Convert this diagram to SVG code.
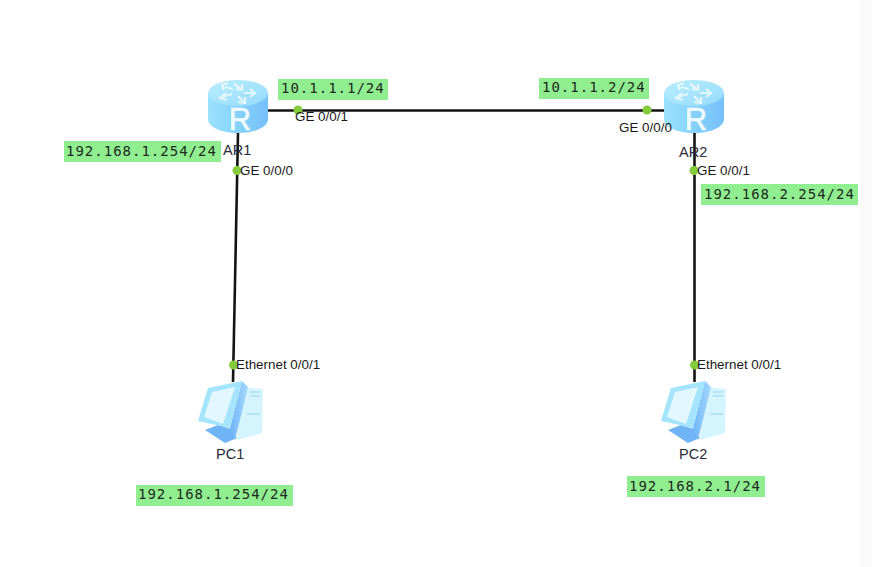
<svg xmlns="http://www.w3.org/2000/svg" width="872" height="567" viewBox="0 0 872 567">
<style>
.lnk{stroke:#141414;stroke-width:2.6;fill:none}
.dot{fill:#84cc3c}
.if{font:13.400px "Liberation Sans",Arial,sans-serif;fill:#1a1a1a}
.nm{font:14.500px "Liberation Sans",Arial,sans-serif;fill:#2a2a3a}
.ip{font:14px "DejaVu Sans Mono","Liberation Mono",monospace;letter-spacing:1px;fill:#1c2a1c}
.bg{fill:#90ee90}
</style>
<defs>
<linearGradient id="rs" x1="0" x2="1" y1="0" y2="0"><stop offset="0" stop-color="#9ae2fc"/><stop offset=".55" stop-color="#84d0fb"/><stop offset="1" stop-color="#74c0f9"/></linearGradient>
<linearGradient id="rt" x1="0" x2="1" y1="0" y2="1"><stop offset="0" stop-color="#b8eefd"/><stop offset="1" stop-color="#96dafc"/></linearGradient>
<linearGradient id="side" x1="0" x2="1" y1="0" y2="0"><stop offset="0" stop-color="#6fb4f8"/><stop offset="1" stop-color="#a6d8fc"/></linearGradient>
<g id="router">
<path d="M0 13V39C0 47 13 53 30 53S60 47 60 39V13Z" fill="url(#rs)"/>
<ellipse cx="30" cy="13" rx="30" ry="13" fill="url(#rt)"/>
<g fill="none" stroke="#e4f8ff" stroke-width="2.200">
<path d="M25 9L17 7M20 3L14 5L16 10"/>
<path d="M26 4L33 9M28 9L34 10L34 4"/>
<path d="M36 13L45 13M42 9L47 13L42 17"/>
<path d="M24 14L14 17M18 13L12 18L19 20"/>
<path d="M30 16L35 21M30 22L37 23L37 17"/>
</g>
<text x="32" y="50" font-family="Liberation Sans,Arial,sans-serif" font-size="31" fill="#eefbff" stroke="#eefbff" stroke-width=".6" text-anchor="middle">R</text>
</g>
<g id="pc">
<path d="M44 6L65 8L64 52L39 59Z" fill="#d4f5fe"/>
<path d="M7 49L27 62L39 57L33 48L20 44Z" fill="#6fb4f6"/>
<path d="M44 0L50 6L37 59L32 47Z" fill="url(#side)"/>
<path d="M10 7L44 0L32 47L0 40Z" fill="#a4e4fc"/>
<path d="M14 11L37 6L25 43L6 36Z" fill="#e2f8fe"/>
<path d="M52 11H62M52 15H62M49 33H62" stroke="#9ccff0" stroke-width="1" fill="none"/>
</g>
</defs>
<rect width="872" height="567" fill="#fff"/>
<rect x="860" width="12" height="567" fill="#fafafa"/>
<g id="connectors">
<path class="lnk" d="M268 110.500H664"/>
<path class="lnk" d="M238 133L233 382"/>
<path class="lnk" d="M694.500 133V382"/>
<circle class="dot" cx="298" cy="110" r="4.500"/>
<circle class="dot" cx="647" cy="110" r="4.500"/>
<circle class="dot" cx="237" cy="170.500" r="4.500"/>
<circle class="dot" cx="694" cy="170.500" r="4.500"/>
<circle class="dot" cx="233.500" cy="365" r="4.500"/>
<circle class="dot" cx="694.500" cy="365" r="4.500"/>
</g>
<g id="AR1"><use href="#router" x="208" y="80"/><text class="nm" x="223" y="155">AR1</text></g>
<g id="AR2"><use href="#router" x="664" y="80"/><text class="nm" x="679" y="157">AR2</text></g>
<g id="PC1"><use href="#pc" x="198" y="381"/><text class="nm" x="216" y="459">PC1</text></g>
<g id="PC2"><use href="#pc" x="661" y="381"/><text class="nm" x="679" y="459">PC2</text></g>
<g id="interface-labels">
<text class="if" x="295" y="121">GE 0/0/1</text>
<text class="if" x="619" y="132">GE 0/0/0</text>
<text class="if" x="240" y="175">GE 0/0/0</text>
<text class="if" x="697" y="175">GE 0/0/1</text>
<text class="if" x="236" y="369">Ethernet 0/0/1</text>
<text class="if" x="697" y="369">Ethernet 0/0/1</text>
</g>
<g id="ip-labels">
<rect class="bg" x="278" y="79" width="110" height="21"/><text class="ip" x="281" y="93">10.1.1.1/24</text>
<rect class="bg" x="539" y="78" width="110" height="21"/><text class="ip" x="542" y="92">10.1.1.2/24</text>
<rect class="bg" x="64" y="141" width="157" height="21"/><text class="ip" x="66" y="156">192.168.1.254/24</text>
<rect class="bg" x="701" y="184" width="157" height="21"/><text class="ip" x="704" y="199">192.168.2.254/24</text>
<rect class="bg" x="136" y="485" width="157" height="21"/><text class="ip" x="138" y="499">192.168.1.254/24</text>
<rect class="bg" x="627" y="476" width="138" height="21"/><text class="ip" x="629" y="491">192.168.2.1/24</text>
</g>
</svg>
